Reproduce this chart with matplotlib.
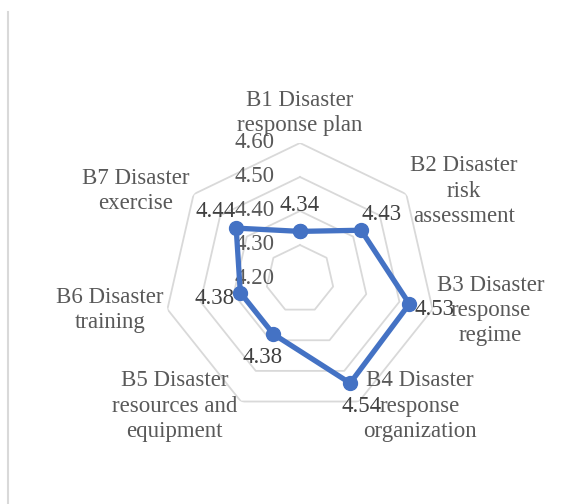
import matplotlib
matplotlib.use("Agg")
import matplotlib.pyplot as plt
import numpy as np
from matplotlib.lines import Line2D

categories = [
    "B1 Disaster\nresponse plan",
    "B2 Disaster\nrisk\nassessment",
    "B3 Disaster\nresponse\nregime",
    "B4 Disaster\nresponse\norganization",
    "B5 Disaster\nresources and\nequipment",
    "B6 Disaster\ntraining",
    "B7 Disaster\nexercise",
]
values = [4.34, 4.43, 4.53, 4.54, 4.38, 4.38, 4.44]
ring_levels = [4.20, 4.30, 4.40, 4.50, 4.60]
tick_labels = ["4.20", "4.30", "4.40", "4.50", "4.60"]

LINE_COLOR = "#4472C4"
GRID_COLOR = "#D9D9D9"
TEXT_COLOR = "#595959"
PX = 0.72  # points per pixel at dpi 100

plt.rcParams["font.family"] = ["Liberation Serif", "DejaVu Serif"]


def main():
    fig = plt.figure(figsize=(5.77, 5.04), dpi=100)
    ax = fig.add_axes([0.2842, 0.1766, 0.4714, 0.5397], projection="polar")
    ax.set_theta_offset(np.pi / 2)
    ax.set_theta_direction(-1)
    ax.set_ylim(ring_levels[0], ring_levels[-1])
    ax.grid(False)
    ax.set_xticks([])
    ax.set_yticks([])
    ax.spines["polar"].set_visible(False)
    ax.patch.set_alpha(0)

    n = len(categories)
    theta = np.linspace(0, 2 * np.pi, n, endpoint=False)
    theta_closed = np.append(theta, theta[0])

    # heptagon rings
    for lvl in ring_levels[1:]:
        ax.plot(theta_closed, [lvl] * (n + 1), color=GRID_COLOR, lw=1.3, zorder=1)

    # radial tick labels
    for lvl, lab in zip(ring_levels, tick_labels):
        ax.annotate(lab, xy=(0, lvl), xytext=(-25 * PX, 0), textcoords="offset points",
                    ha="right", va="center", fontsize=16.5, color=TEXT_COLOR, zorder=2)

    # data series
    vals_closed = values + values[:1]
    ax.plot(theta_closed, vals_closed, color=LINE_COLOR, lw=3.8, marker="o",
            markersize=10, zorder=3, clip_on=False)

    # data labels, pushed outward from each point
    for t, v in zip(theta, values):
        dx, dy = np.sin(t), np.cos(t)
        ax.annotate(f"{v:.2f}", xy=(t, v), xytext=(dx * 26 * PX, dy * 26 * PX),
                    textcoords="offset points", ha="center", va="center",
                    fontsize=16.5, color="#404040", zorder=4)

    # category labels
    for t, lab in zip(theta, categories):
        dx, dy = np.sin(t), np.cos(t)
        if abs(dx) < 0.1:
            ha, va, off = "center", "bottom", (0, 7 * PX)
        else:
            ha = "left" if dx > 0 else "right"
            va = "center"
            off = (np.sign(dx) * 4 * PX, dy * 5 * PX)
        ax.annotate(lab, xy=(t, ring_levels[-1]), xytext=off, textcoords="offset points",
                    ha=ha, va=va, multialignment="center", fontsize=16.5,
                    color=TEXT_COLOR, linespacing=1.26, annotation_clip=False)

    # page border on the left
    fig.add_artist(Line2D([8 / 577, 8 / 577], [0, 1 - 12 / 504], color=GRID_COLOR, lw=1.5))

    fig.savefig("out.png", dpi=100)


if __name__ == "__main__":
    main()
